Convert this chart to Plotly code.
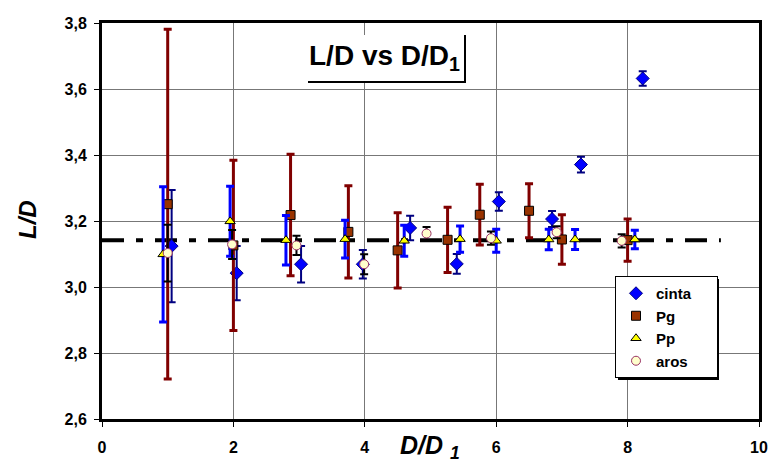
import plotly.graph_objects as go

# ---- data ----
cinta_x = [1.06, 2.05, 3.03, 3.97, 4.69, 5.40, 6.04, 6.85, 7.29, 8.23]
cinta_y = [3.124, 3.042, 3.069, 3.069, 3.179, 3.070, 3.259, 3.206, 3.371, 3.632]
cinta_err = [0.17, 0.082, 0.055, 0.043, 0.037, 0.030, 0.028, 0.024, 0.024, 0.022]

pg_x = [1.0, 2.0, 2.87, 3.75, 4.50, 5.26, 5.75, 6.50, 7.0, 8.0]
pg_y = [3.251, 3.126, 3.218, 3.167, 3.111, 3.143, 3.219, 3.231, 3.144, 3.142]
pg_err = [0.53, 0.258, 0.184, 0.14, 0.114, 0.099, 0.092, 0.082, 0.075, 0.064]

pp_x = [0.93, 1.95, 2.80, 3.70, 4.60, 5.45, 6.0, 6.80, 7.20, 8.11]
pp_y = [3.099, 3.199, 3.142, 3.145, 3.140, 3.145, 3.140, 3.144, 3.144, 3.144]
pp_err = [0.205, 0.106, 0.075, 0.057, 0.047, 0.040, 0.035, 0.031, 0.030, 0.028]

aros_x = [1.0, 1.98, 2.96, 3.99, 4.94, 5.92, 6.92, 7.91]
aros_y = [3.103, 3.129, 3.126, 3.069, 3.162, 3.148, 3.166, 3.140]
aros_err = [0.086, 0.044, 0.029, 0.03, 0.02, 0.02, 0.018, 0.02]

ref_x = [0, 9.42]
ref_y = [3.1416, 3.1416]

x_ticks = [0, 2, 4, 6, 8, 10]
y_ticks = [2.6, 2.8, 3.0, 3.2, 3.4, 3.6, 3.8]

# ---- layout geometry (pixels) ----
W, H = 771, 466
L, R, T, B = 102, 759, 23, 419
def px(x):
    return (x - L) / (R - L)
def py(y):
    return (B - y) / (B - T)

FONT = "Arial, Liberation Sans, sans-serif"
PAD = "\u00a0" * 5  # widens the legend box to match the reference

fig = go.Figure()

fig.add_trace(go.Scatter(x=ref_x, y=ref_y, mode="lines", showlegend=False,
                         line=dict(color="black", width=4, dash="22px,12px,7px,12px"),
                         hoverinfo="skip"))

fig.add_trace(go.Scatter(
    x=cinta_x, y=cinta_y, mode="markers", name="cinta" + PAD,
    marker=dict(symbol="diamond", size=10, color="#0000FF", line=dict(color="#000080", width=1)),
    error_y=dict(type="data", array=cinta_err, color="#000080", thickness=2, width=4)))

fig.add_trace(go.Scatter(
    x=pg_x, y=pg_y, mode="markers", name="Pg",
    marker=dict(symbol="square", size=9, color="#993300", line=dict(color="black", width=1)),
    error_y=dict(type="data", array=pg_err, color="#800000", thickness=3, width=4)))

fig.add_trace(go.Scatter(
    x=pp_x, y=pp_y, mode="markers", name="Pp",
    marker=dict(symbol="triangle-up", size=9, color="#FFFF00", line=dict(color="black", width=1)),
    error_y=dict(type="data", array=pp_err, color="#0000FF", thickness=3, width=4)))

fig.add_trace(go.Scatter(
    x=aros_x, y=aros_y, mode="markers", name="aros",
    marker=dict(symbol="circle", size=9, color="#FFFFCC", line=dict(color="#993366", width=1)),
    error_y=dict(type="data", array=aros_err, color="black", thickness=2, width=4)))

axis_common = dict(showline=True, mirror=True, linewidth=3, linecolor="black",
                   showgrid=True, gridcolor="#777777", gridwidth=1,
                   ticks="outside", ticklen=5, tickwidth=1, tickcolor="black",
                   zeroline=False, automargin=False,
                   tickfont=dict(family=FONT, size=16, color="black", weight="bold"))

fig.update_layout(
    width=W, height=H,
    margin=dict(l=L, r=W - R, t=T, b=H - B, autoexpand=False),
    paper_bgcolor="white", plot_bgcolor="white",
    separators=", ",
    font=dict(family=FONT, color="black"),
    xaxis=dict(range=[0, 10], tickvals=x_ticks, ticklabelstandoff=7, **axis_common),
    yaxis=dict(range=[2.6, 3.8], tickvals=y_ticks, tickformat=".1f", ticklabelstandoff=4, **axis_common),
    legend=dict(x=px(615), y=py(276), xanchor="left", yanchor="top",
                bgcolor="white", bordercolor="black", borderwidth=1,
                font=dict(family=FONT, size=15, color="black", weight="bold"),
                tracegroupgap=0),
    showlegend=True,
)

shapes = [
    # title box background
    dict(type="rect", xref="paper", yref="paper", x0=px(308), x1=px(465), y0=py(82), y1=py(35),
         fillcolor="white", line=dict(width=0), layer="above"),
    dict(type="line", xref="paper", yref="paper", x0=px(308), x1=px(466), y0=py(82), y1=py(82),
         line=dict(color="black", width=2), layer="above"),
    dict(type="line", xref="paper", yref="paper", x0=px(465), x1=px(465), y0=py(35), y1=py(82),
         line=dict(color="black", width=2), layer="above"),
    # legend shadow
    dict(type="rect", xref="paper", yref="paper", x0=px(618), x1=px(719), y0=py(380), y1=py(279),
         fillcolor="black", line=dict(width=0), layer="above"),
]
fig.update_layout(shapes=shapes)

fig.add_annotation(xref="paper", yref="paper", x=px(384), y=py(58), xanchor="center", yanchor="middle",
                   text="<b>L/D vs D/D<sub>1</sub></b>", showarrow=False,
                   font=dict(family=FONT, size=28, color="black"))
fig.add_annotation(xref="paper", yref="paper", x=px(430), y=py(447), xanchor="center", yanchor="middle",
                   text="<b><i>D/D <sub>1</sub></i></b>", showarrow=False,
                   font=dict(family=FONT, size=25, color="black"))
fig.add_annotation(xref="paper", yref="paper", x=px(27), y=py(220), xanchor="center", yanchor="middle",
                   text="<b><i>L/D</i></b>", showarrow=False, textangle=-90,
                   font=dict(family=FONT, size=24, color="black"))

fig.write_html("out.html")
